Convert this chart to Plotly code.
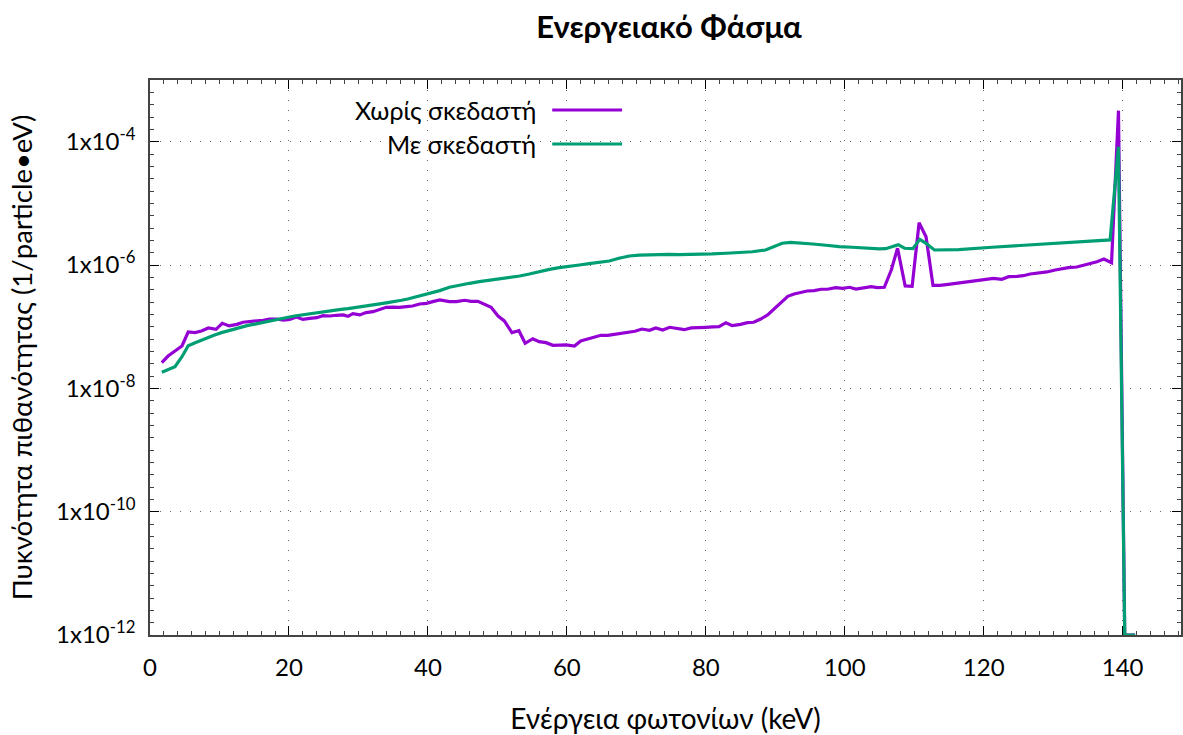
import plotly.graph_objects as go

# ---------------- data ----------------
energy_no_scatter = [
    1.7, 2.6, 3.6, 4.6, 5.5, 6.5, 7.4, 8.4, 9.5, 10.4, 11.4, 12.5, 13.4, 14.4, 15.3,
    16.3, 17.2, 18.2, 19.2, 20.1, 21.1, 22.0, 23.0, 24.0, 24.9, 25.9, 26.8, 27.8, 28.5,
    29.2, 30.2, 31.1, 32.1, 33.1, 34.0, 35.0, 35.9, 36.9, 37.8, 38.8, 39.8, 40.7, 41.7,
    43.1, 44.1, 45.3, 46.2, 47.2, 48.2, 49.1, 50.1, 51.0, 52.1, 53.1, 54.0, 55.1, 56.0,
    57.0, 58.0, 58.9, 59.9, 61.1, 62.0, 63.0, 64.0, 64.9, 65.9, 66.9, 67.8, 68.8, 69.8,
    70.8, 71.9, 72.8, 73.8, 74.8, 75.7, 76.9, 77.9, 78.9, 80.0, 81.0, 81.9, 82.9, 83.8,
    85.0, 86.0, 86.9, 87.9, 88.9, 89.8, 90.8, 91.8, 92.7, 93.7, 94.6, 95.6, 96.6, 97.5,
    98.7, 99.7, 100.7, 101.6, 102.8, 103.8, 104.7, 105.7, 106.7, 107.6, 108.7, 109.7,
    110.7, 111.7, 112.7, 113.7, 114.9, 116.1, 117.8, 119.3, 120.2, 121.4, 122.6, 123.6,
    124.8, 125.7, 126.7, 127.9, 129.1, 130.3, 131.2, 132.2, 133.4, 134.3, 135.3, 136.3,
    137.3, 138.4, 139.4, 140.3, 141.8,
]
density_no_scatter = [
    2.61e-8, 3.34e-8, 4.04e-8, 4.86e-8, 8.20e-8, 8.00e-8, 8.51e-8, 9.53e-8, 9.06e-8, 1.135e-7,
    1.03e-7, 1.09e-7, 1.18e-7, 1.21e-7, 1.22e-7, 1.27e-7, 1.33e-7, 1.33e-7, 1.28e-7, 1.31e-7,
    1.44e-7, 1.31e-7, 1.36e-7, 1.40e-7, 1.51e-7, 1.49e-7, 1.53e-7, 1.55e-7, 1.47e-7, 1.63e-7,
    1.55e-7, 1.69e-7, 1.75e-7, 1.91e-7, 2.06e-7, 2.08e-7, 2.06e-7, 2.11e-7, 2.16e-7, 2.33e-7,
    2.39e-7, 2.55e-7, 2.71e-7,
    2.54e-7, 2.54e-7, 2.68e-7, 2.58e-7, 2.58e-7, 2.33e-7, 2.06e-7, 1.49e-7, 1.24e-7, 8.00e-8,
    8.61e-8, 5.37e-8, 6.38e-8, 5.71e-8, 5.50e-8, 4.99e-8, 4.99e-8, 5.05e-8, 4.86e-8, 5.86e-8,
    6.31e-8, 6.89e-8, 7.24e-8, 7.24e-8, 7.52e-8, 7.80e-8, 8.00e-8, 8.41e-8, 9.16e-8, 8.73e-8,
    9.53e-8, 8.83e-8, 9.77e-8, 9.40e-8, 8.93e-8, 9.53e-8, 9.53e-8, 9.77e-8, 9.89e-8, 1.00e-7,
    1.16e-7, 1.04e-7, 1.09e-7, 1.16e-7, 1.18e-7, 1.33e-7, 1.55e-7, 1.91e-7, 2.48e-7, 3.10e-7,
    3.39e-7, 3.56e-7, 3.79e-7, 3.84e-7, 4.04e-7, 4.04e-7, 4.29e-7, 4.19e-7, 4.35e-7, 4.08e-7,
    4.24e-7, 4.46e-7, 4.29e-7, 4.35e-7, 8.30e-7, 1.87e-6, 4.57e-7, 4.51e-7, 4.85e-6, 2.88e-6,
    4.69e-7, 4.69e-7, 4.86e-7, 5.05e-7, 5.37e-7, 5.57e-7, 5.71e-7, 6.08e-7, 5.86e-7, 6.47e-7,
    6.55e-7, 6.71e-7, 7.14e-7, 7.41e-7, 7.71e-7, 8.30e-7, 8.73e-7, 9.06e-7, 9.29e-7, 9.89e-7,
    1.05e-6, 1.13e-6, 1.25e-6, 1.09e-6, 3.18e-4, 1e-12, 1e-12,
]

energy_scatter = [
    1.7, 2.6, 3.6, 4.6, 5.5, 6.5, 7.4, 8.4, 9.3, 10.3, 11.3, 12.2, 13.2, 14.1, 15.1, 16.0,
    17.0, 18.0, 18.9, 19.9, 20.8, 21.8, 22.8, 23.7, 24.7, 25.6, 26.6, 27.5, 28.5, 29.5,
    30.4, 31.4, 32.3, 33.3, 34.2, 35.2, 36.2, 37.1, 38.1, 39.0, 40.0, 41.0, 41.7,
    43.1, 44.5, 46.0, 47.4, 48.8, 50.3, 51.7, 53.2, 54.6, 56.0, 57.5, 58.9, 60.3, 61.8,
    63.2, 64.7, 66.1, 67.5, 69.0, 70.4, 71.8, 73.3, 74.7, 76.2, 77.6,
    79.0, 80.9, 82.9, 84.8, 86.7, 88.6, 89.8, 91.0, 92.2, 93.4, 95.4, 97.3, 99.2, 101.1,
    103.0, 105.0, 105.9, 106.9, 107.7, 108.6, 109.8, 110.8, 111.7, 112.9, 114.6, 116.4,
    121.2, 126.0, 130.8, 135.6, 138.2, 139.4, 140.3, 141.8,
]
density_scatter = [
    1.82e-8, 1.98e-8, 2.24e-8, 3.26e-8, 4.92e-8, 5.50e-8, 6.08e-8, 6.71e-8, 7.33e-8, 8.00e-8,
    8.61e-8, 9.29e-8, 9.89e-8, 1.05e-7, 1.10e-7, 1.16e-7, 1.22e-7, 1.28e-7, 1.35e-7, 1.42e-7,
    1.49e-7, 1.55e-7, 1.61e-7, 1.67e-7, 1.73e-7, 1.79e-7, 1.87e-7, 1.91e-7, 1.96e-7, 2.03e-7,
    2.08e-7, 2.16e-7, 2.25e-7, 2.36e-7, 2.45e-7, 2.54e-7, 2.68e-7, 2.81e-7, 2.99e-7, 3.18e-7,
    3.39e-7, 3.61e-7, 3.84e-7,
    4.35e-7, 4.74e-7, 5.05e-7, 5.37e-7, 5.65e-7, 5.86e-7, 6.15e-7, 6.64e-7, 7.14e-7, 7.80e-7,
    8.51e-7, 9.06e-7, 9.40e-7, 1.00e-6, 1.05e-6, 1.11e-6, 1.16e-6, 1.29e-6, 1.40e-6, 1.45e-6,
    1.47e-6, 1.49e-6, 1.49e-6, 1.47e-6, 1.47e-6,
    1.49e-6, 1.51e-6, 1.55e-6, 1.58e-6, 1.64e-6, 1.75e-6, 1.98e-6, 2.25e-6, 2.33e-6, 2.30e-6,
    2.19e-6, 2.09e-6, 1.98e-6, 1.94e-6, 1.87e-6, 1.82e-6, 1.84e-6, 1.98e-6, 2.14e-6, 1.87e-6,
    1.84e-6, 2.61e-6, 2.25e-6, 1.75e-6, 1.75e-6, 1.78e-6, 1.94e-6, 2.11e-6, 2.30e-6, 2.48e-6,
    2.55e-6, 8.3e-5, 1e-12, 1e-12,
]

series_names = ["Χωρίς σκεδαστή", "Με σκεδαστή"]
series_colors = ["#9400D3", "#009E73"]

x_tick_values = [0, 20, 40, 60, 80, 100, 120, 140]
y_tick_values = [1e-12, 1e-10, 1e-8, 1e-6, 1e-4]
y_tick_labels = ["1x10<sup>-12</sup>", "1x10<sup>-10</sup>", "1x10<sup>-8</sup>",
                 "1x10<sup>-6</sup>", "1x10<sup>-4</sup>"]

title_text = "Ενεργειακό Φάσμα"
x_title = "Ενέργεια φωτονίων (keV)"
y_title = "Πυκνότητα πιθανότητας (1/particle•eV)"

# ---------------- figure ----------------
FONT = "Lato, 'Noto Sans', sans-serif"
W, H = 1183, 735
L, R, T, B = 150, 0, 80, 100

fig = go.Figure()
fig.add_trace(go.Scatter(x=energy_no_scatter, y=density_no_scatter, mode="lines",
                         name=series_names[0], line=dict(color=series_colors[0], width=3.2)))
fig.add_trace(go.Scatter(x=energy_scatter, y=density_scatter, mode="lines",
                         name=series_names[1], line=dict(color=series_colors[1], width=3.2)))

y_minor = [10 ** (-12 + 0.2 * i) for i in range(46)]

fig.update_layout(
    width=W, height=H,
    margin=dict(l=L, r=R, t=T, b=B),
    paper_bgcolor="white", plot_bgcolor="white",
    showlegend=False,
    font=dict(family=FONT, color="black", size=24),
    title=dict(text="<b>" + title_text + "</b>", x=669 / W, xanchor="center",
               y=1 - 27 / H, yanchor="middle", yref="container",
               font=dict(family=FONT, size=31, color="black")),
    xaxis=dict(
        range=[0, 148.4], tickmode="array", tickvals=x_tick_values,
        ticks="inside", ticklen=9, tickwidth=1, tickcolor="black",
        showline=True, linecolor="#444", linewidth=1.5, mirror="ticks",
        showgrid=True, gridcolor="#666", gridwidth=1, griddash="1px,9px",
        zeroline=False, tickfont=dict(size=24), ticklabelstandoff=10,
        minor=dict(tickmode="array", tickvals=list(range(0, 149, 2)), ticks="inside",
                   ticklen=4, tickcolor="#444", showgrid=False),
        title=dict(text=x_title, font=dict(size=28), standoff=30),
    ),
    yaxis=dict(
        type="log", range=[-12, -3], tickmode="array", tickvals=y_tick_values,
        ticktext=y_tick_labels,
        ticks="inside", ticklen=9, tickwidth=1, tickcolor="black",
        showline=True, linecolor="#444", linewidth=1.5, mirror="ticks",
        showgrid=True, gridcolor="#666", gridwidth=1, griddash="1px,9px",
        zeroline=False, tickfont=dict(size=24), ticklabelstandoff=8,
        minor=dict(tickmode="array", tickvals=y_minor, ticks="inside",
                   ticklen=4, tickcolor="#444", showgrid=False),
        title=dict(text=y_title, font=dict(size=27.5), standoff=15),
    ),
)

# legend drawn gnuplot-style: right-aligned text followed by a line sample
plot_w = W - L - R
plot_h = H - T - B
legend_rows_y = [110, 144]
for name, color, py in zip(series_names, series_colors, legend_rows_y):
    yp = (H - B - py) / plot_h
    fig.add_annotation(text=name, xref="paper", yref="paper",
                       x=(539 - L) / plot_w, y=yp, xanchor="right", yanchor="middle",
                       showarrow=False, font=dict(size=25, family=FONT, color="black"))
    fig.add_shape(type="line", xref="paper", yref="paper",
                  x0=(553 - L) / plot_w, x1=(623 - L) / plot_w, y0=yp, y1=yp,
                  line=dict(color=color, width=3.2))

fig.write_html("out.html")
